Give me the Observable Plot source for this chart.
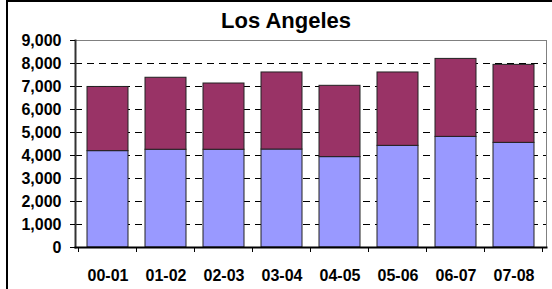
<!DOCTYPE html>
<html><head><meta charset="utf-8">
<script src="https://cdn.jsdelivr.net/npm/d3@7"></script>
<script src="https://cdn.jsdelivr.net/npm/@observablehq/plot@0.6"></script>
<style>
body{margin:0;background:#fff;}
#wrap{position:relative;width:552px;height:289px;overflow:hidden;font-family:"Liberation Sans",Arial,sans-serif;background:#fff;}
#border{position:absolute;left:6px;top:0;width:600px;height:400px;border:2px solid #000;box-sizing:border-box;}
#title{position:absolute;left:186px;width:200px;top:8px;text-align:center;font-weight:bold;font-size:22px;line-height:25px;color:#000;}
#chart{position:absolute;left:0;top:0;}
</style></head><body>
<div id="wrap"><div id="border"></div><div id="chart"></div><div id="title">Los Angeles</div></div>
<script>
const categories = ["00-01","01-02","02-03","03-04","04-05","05-06","06-07","07-08"];
const lowerValues = [4190, 4250, 4250, 4260, 3930, 4420, 4810, 4550];
const upperValues = [2790, 3130, 2880, 3350, 3100, 3190, 3390, 3390];
const yTicks = [0,1000,2000,3000,4000,5000,6000,7000,8000,9000];
const seriesNames = ["lower","upper"];
const seriesColors = ["#9999FF","#993366"];

const data = [
  ...categories.map((c,i)=>({cat:c, series:seriesNames[0], value:lowerValues[i]})),
  ...categories.map((c,i)=>({cat:c, series:seriesNames[1], value:upperValues[i]}))
];

const plot = Plot.plot({
  width:552, height:289,
  marginLeft:75, marginRight:6, marginTop:40, marginBottom:42,
  style:{fontFamily:'"Liberation Sans", Arial, sans-serif', fontSize:"16px", fontWeight:"bold", color:"#000", background:"transparent", overflow:"visible"},
  x:{domain:categories, paddingInner:0.29, paddingOuter:0.145, label:null},
  y:{domain:[0,9000], label:null},
  color:{domain:seriesNames, range:seriesColors},
  marks:[
    Plot.ruleY(yTicks.slice(1,-1), {stroke:"#000", strokeDasharray:"7,5", strokeWidth:1}),
    Plot.barY(data, {x:"cat", y:"value", fill:"series", stroke:"#222", strokeWidth:1}),
    Plot.frame({stroke:"#808080"}),
    Plot.frame({anchor:"left", stroke:"#333", strokeWidth:2}),
    Plot.frame({anchor:"bottom", stroke:"#000", strokeWidth:2}),
    Plot.axisY({ticks:yTicks, tickSize:5, tickPadding:9, tickFormat:d3.format(","), label:null}),
    Plot.axisX({tickSize:0, tickPadding:22, label:null})
  ]
});
document.getElementById("chart").appendChild(plot);

// boundary tick marks under the x axis, from the library's band scale
const xs = plot.scale("x");
const ys = plot.scale("y");
const gap = xs.step - xs.bandwidth;
const bounds = categories.map(c => xs.apply(c) - gap/2);
bounds.push(xs.apply(categories[categories.length-1]) + xs.bandwidth + gap/2);
const y0 = ys.apply(0);
d3.select(plot).append("g")
  .attr("stroke","#000")
  .selectAll("line").data(bounds).join("line")
  .attr("x1", d=>d).attr("x2", d=>d)
  .attr("y1", y0).attr("y2", y0+5);
</script>
</body></html>
